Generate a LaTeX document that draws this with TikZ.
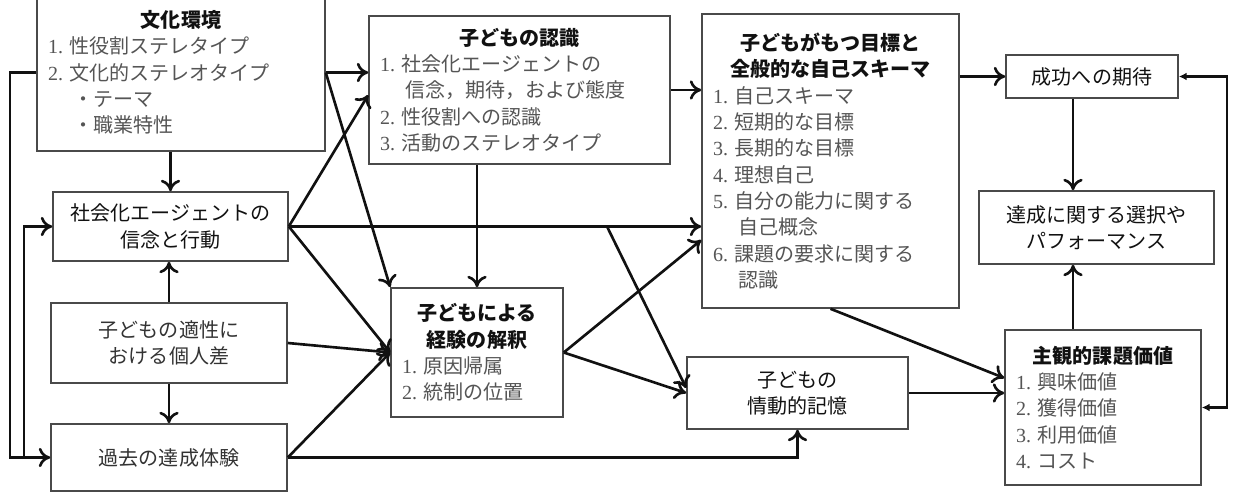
\documentclass[tikz,border=0pt]{standalone}
\usepackage{fontspec}
\setmainfont{Noto Sans CJK JP}
\newfontfamily\numfont{Liberation Serif}
\usepackage{tikz}
\usetikzlibrary{arrows.meta,positioning}
\definecolor{ink}      {HTML}{111111}
\definecolor{frame}    {HTML}{4A4A4A}
\definecolor{itemgray} {HTML}{555555}
\definecolor{softink}  {HTML}{333333}
\setlength{\parindent}{0pt}
\newcommand{\boxhead}[1]{{\centering\bfseries\color{ink}#1\par}}
\newcommand{\itm}[2]{\par{\color{itemgray}{\numfont #1.}\ #2}}
\newcommand{\itmcont}[1]{\par{\color{itemgray}\hspace*{1.25em}#1}}
\tikzset{
  >={To[length=6.5pt,width=11pt]},
  every node/.style={font=\fontsize{11.4}{15}\selectfont},
  % --- nodes
  box/.style    = {draw=frame, line width=0.9pt, fill=white, inner sep=0pt},
  lstbox/.style = {box, inner xsep=0.22cm},
  lbox/.style   = {box, align=center, text=ink},
  lboxs/.style  = {lbox, text=softink},
  % --- edges
  e/.style      = {->, line width=1.5pt, draw=ink},
  eback/.style  = {{Latex[length=4.5pt,width=4.5pt]}-{Latex[length=4.5pt,width=4.5pt]},
                   line width=1.5pt, draw=ink},
}
\begin{document}
\begin{tikzpicture}[x=0.02cm, y=-0.02cm,
  sz/.style 2 args={minimum width=#1*0.02cm, minimum height=#2*0.02cm},
]
  \useasboundingbox (0,0) rectangle (1234,493);
  % --- boxes with lists
  \node[lstbox, text width=5.32cm, minimum height=157*0.02cm] (cult) at (181,72.5) {%
    \boxhead{文化環境}\itm{1}{性役割ステレタイプ}\itm{2}{文化的ステレオタイプ}%
    \itmcont{・テーマ}\itmcont{・職業特性}};
  \node[lstbox, text width=5.58cm, minimum height=148*0.02cm] (perc) at (519.5,90) {%
    \boxhead{子どもの認識}\itm{1}{社会化エージェントの}\itmcont{信念，期待，および態度}%
    \itm{2}{性役割への認識}\itm{3}{活動のステレオタイプ}};
  \node[lstbox, text width=3.0cm, minimum height=129*0.02cm] (interp) at (477,352.5) {%
    \boxhead{子どもによる\\経験の解釈}\itm{1}{原因帰属}\itm{2}{統制の位置}};
  \node[lstbox, text width=4.7cm, minimum height=294*0.02cm] (goal) at (830.5,161) {%
    \boxhead{子どもがもつ目標と\\全般的な自己スキーマ}\itm{1}{自己スキーマ}%
    \itm{2}{短期的な目標}\itm{3}{長期的な目標}\itm{4}{理想自己}%
    \itm{5}{自分の能力に関する}\itmcont{自己概念}\itm{6}{課題の要求に関する}\itmcont{認識}};
  \node[lstbox, text width=3.48cm, minimum height=155*0.02cm] (val) at (1103,407.5) {%
    \boxhead{主観的課題価値}\itm{1}{興味価値}\itm{2}{獲得価値}\itm{3}{利用価値}\itm{4}{コスト}};
  % --- plain boxes
  \node[lbox, sz={235}{69}] (soc) at (170.5,226.5) {社会化エージェントの\\信念と行動};
  \node[lboxs, sz={236}{80}] (apt) at (169,343) {子どもの適性に\\おける個人差};
  \node[lboxs, sz={236}{67}] (past) at (169,457.5) {過去の達成体験};
  \node[lbox, sz={221}{72}] (mem) at (797.5,393) {子どもの\\情動的記憶};
  \node[lbox, sz={172}{43}] (expt) at (1092,76.5) {成功への期待};
  \node[lbox, sz={235}{73}] (choice) at (1096.5,227.5) {達成に関する選択や\\パフォーマンス};

  \coordinate (railL) at (10,0);
  \coordinate (railM) at (24,0);
  \coordinate (railR) at (1227,0);
  \coordinate (colx) at (1073,0);
  \coordinate (fork) at (607,226.5);

  % --- left side
  \draw[e] (cult.west) -- (cult.west -| railL) -- (past.west -| railL) -- (past.west);
  \draw[e] (past.west -| railM) -- (soc.west -| railM) -- (soc.west);
  \draw[e] (soc.north |- cult.south) -- (soc.north);
  \draw[e] (apt.north) -- (apt.north |- soc.south);
  \draw[e] (apt.south) -- (apt.south |- past.north);
  % --- into the middle
  \draw[e] (cult.east) -- (cult.east -| perc.west);
  \draw[e] (cult.east) -- (interp.north west);
  \draw[e] (soc.east) -- ([yshift=-0.1cm]perc.west);
  \draw[e] (soc.east) -- (soc.east -| goal.west);
  \draw[e] (soc.east) -- (interp.west);
  \draw[e] (fork) -- ([yshift=0.1cm]mem.west);
  \draw[e] (apt.east) -- (interp.west);
  \draw[e] (past.east) -- (interp.west);
  \draw[e] (past.east) -| (mem.south);
  \draw[e] (interp.north |- perc.south) -- (interp.north);
  \draw[e] (perc.east) -- (perc.east -| goal.west);
  \draw[e] (interp.east) -- ([yshift=-1.58cm]goal.west);
  \draw[e] (interp.east) -- (mem.west);
  % --- right side
  \draw[e] (expt.west -| goal.east) -- (expt.west);
  \draw[e] (goal.south) -- ([yshift=0.59cm]val.west);
  \draw[e] (mem.east) -- (mem.east -| val.west);
  \draw[e] (expt.south -| colx) -- (choice.north -| colx);
  \draw[e] (val.north -| colx) -- (choice.south -| colx);
  \draw[eback] (expt.east) -- (expt.east -| railR) -- (val.east -| railR) -- (val.east);
\end{tikzpicture}
\end{document}
